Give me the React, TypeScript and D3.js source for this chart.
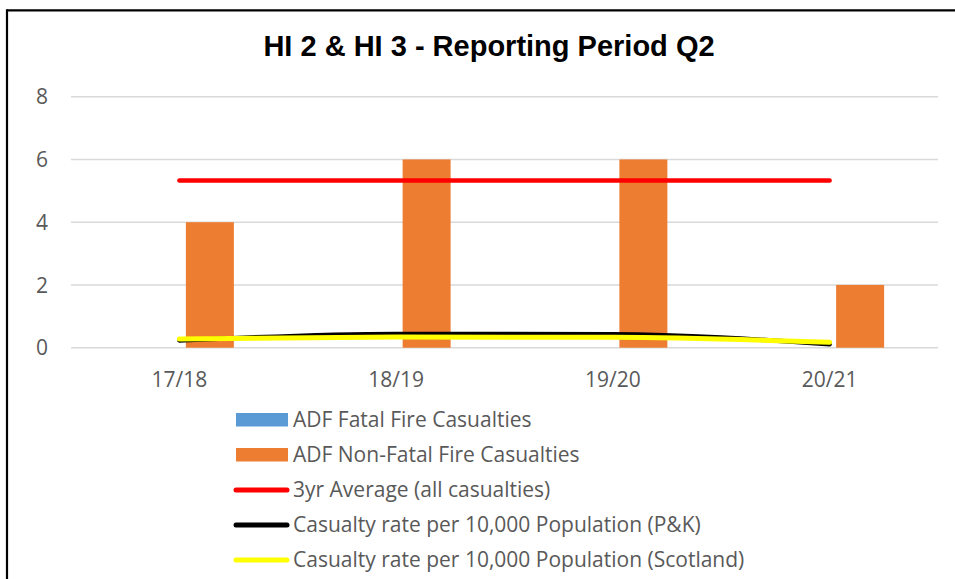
import React from "react";
import * as d3 from "d3";

const categories = ["17/18", "18/19", "19/20", "20/21"];
const fatal = [0, 0, 0, 0];
const nonFatal = [4, 6, 6, 2];
const avg3yr = [5.33, 5.33, 5.33, 5.33];
const ratePK = [0.23, 0.44, 0.43, 0.11];
const rateScotland = [0.28, 0.34, 0.33, 0.17];
const yTicks = [0, 2, 4, 6, 8];
const title = "HI 2 & HI 3 - Reporting Period Q2";
const legendItems = [
  { label: "ADF Fatal Fire Casualties", kind: "bar", color: "#5B9BD5" },
  { label: "ADF Non-Fatal Fire Casualties", kind: "bar", color: "#ED7D31" },
  { label: "3yr Average (all casualties)", kind: "line", color: "#FF0000" },
  { label: "Casualty rate per 10,000 Population (P&K)", kind: "line", color: "#000000" },
  { label: "Casualty rate per 10,000 Population (Scotland)", kind: "line", color: "#FFFF00" },
];

const W = 955;
const H = 579;
const plotLeft = 71;
const plotRight = 938;
const y0 = 347.7;
const y8 = 96.7;
const textColor = "#595959";
const font = "'Open Sans', 'Liberation Sans', sans-serif";

export default function App() {
  const x = d3.scaleBand<string>().domain(categories).range([plotLeft, plotRight]).padding(0);
  const y = d3.scaleLinear().domain([0, 8]).range([y0, y8]);
  const cx = (c: string) => (x(c) as number) + x.bandwidth() / 2;
  const barW = 48;
  const barGap = 13;

  const line = d3
    .line<number>()
    .x((_, i) => cx(categories[i]))
    .y((v) => y(v))
    .curve(d3.curveMonotoneX);
  const straight = d3
    .line<number>()
    .x((_, i) => cx(categories[i]))
    .y((v) => y(v));

  return (
    <svg
      width={W}
      height={H}
      style={{ position: "absolute", left: 0, top: 0, background: "#fff" }}
    >
      <rect x={0} y={0} width={W} height={H} fill="#fff" />
      {/* border */}
      <line x1={7} y1={10.3} x2={W} y2={10.3} stroke="#000" strokeWidth={2.2} />
      <line x1={7} y1={9.2} x2={7} y2={H} stroke="#000" strokeWidth={2.2} />

      <text
        x={489}
        y={56}
        textAnchor="middle"
        fontFamily="'Liberation Sans', Arial, sans-serif"
        fontWeight="bold"
        fontSize={29}
        fill="#000"
      >
        {title}
      </text>

      {/* gridlines */}
      {yTicks.map((t) => (
        <line
          key={t}
          x1={plotLeft}
          x2={plotRight}
          y1={y(t)}
          y2={y(t)}
          stroke="#D9D9D9"
          strokeWidth={1.5}
        />
      ))}
      {yTicks.map((t) => (
        <text
          key={"yl" + t}
          x={48}
          y={y(t)}
          dy="0.36em"
          textAnchor="end"
          fontFamily={font}
          fontSize={21}
          fill={textColor}
        >
          {t}
        </text>
      ))}

      {/* bars */}
      {categories.map((c, i) => (
        <g key={c}>
          <rect
            x={cx(c) - barGap / 2 - barW}
            y={y(fatal[i])}
            width={barW}
            height={y0 - y(fatal[i])}
            fill="#5B9BD5"
          />
          <rect
            x={cx(c) + barGap / 2}
            y={y(nonFatal[i])}
            width={barW}
            height={y0 - y(nonFatal[i])}
            fill="#ED7D31"
          />
        </g>
      ))}

      {/* lines */}
      <path d={straight(avg3yr) || ""} fill="none" stroke="#FF0000" strokeWidth={4.5} strokeLinecap="round" />
      <path d={line(ratePK) || ""} fill="none" stroke="#000" strokeWidth={4.5} strokeLinecap="round" />
      <path d={line(rateScotland) || ""} fill="none" stroke="#FFFF00" strokeWidth={5} strokeLinecap="round" />

      {/* x labels */}
      {categories.map((c) => (
        <text
          key={"xl" + c}
          x={cx(c)}
          y={387}
          textAnchor="middle"
          fontFamily={font}
          fontSize={21}
          fill={textColor}
        >
          {c}
        </text>
      ))}

      {/* legend */}
      {legendItems.map((it, i) => {
        const base = 427 + i * 35;
        return (
          <g key={it.label}>
            {it.kind === "bar" ? (
              <rect x={236} y={base - 14} width={52} height={13.5} fill={it.color} />
            ) : (
              <line
                x1={236}
                x2={287}
                y1={base - 7}
                y2={base - 7}
                stroke={it.color}
                strokeWidth={5}
                strokeLinecap="round"
              />
            )}
            <text x={293} y={base} fontFamily={font} fontSize={21} fill={textColor}>
              {it.label}
            </text>
          </g>
        );
      })}
    </svg>
  );
}
